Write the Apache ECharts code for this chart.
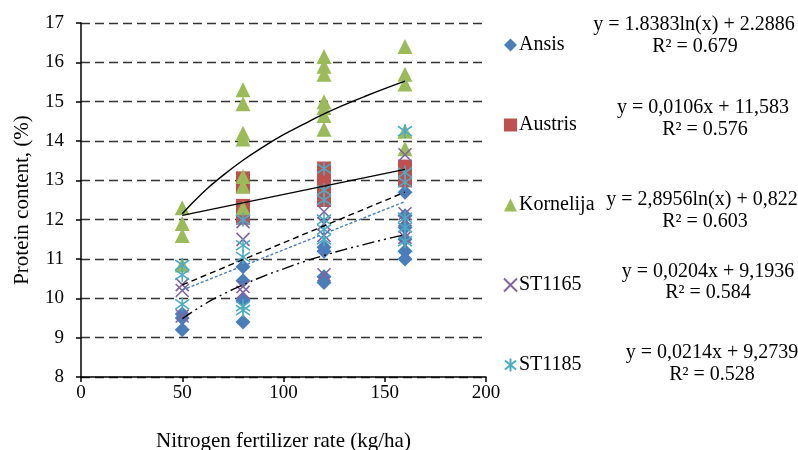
<!DOCTYPE html>
<html>
<head>
<meta charset="utf-8">
<title>Protein content vs nitrogen rate</title>
<script src="https://cdn.jsdelivr.net/npm/echarts@6/dist/echarts.min.js"></script>
<style>
  html, body { margin: 0; padding: 0; background: #fff; }
  #chart { width: 798px; height: 450px; }
</style>
</head>
<body>
<div id="chart"></div>
<script>
// measured points, [nitrogen rate, protein %]
const ansis = [[50, 9.6], [50, 9.2], [50, 9.5], [80, 10.8], [80, 10.45], [80, 9.95], [80, 9.4],
  [120, 11.3], [120, 11.2], [120, 10.55], [120, 10.4],
  [160, 12.7], [160, 12.1], [160, 11.8], [160, 11.5], [160, 11.2], [160, 11.0]];
const austris = [[80, 13.05], [80, 12.85], [80, 12.35], [80, 12.05],
  [120, 13.3], [120, 13.0], [120, 12.7], [120, 12.5],
  [160, 13.35], [160, 13.15], [160, 13.0]];
const kornelija = [[50, 12.3], [50, 11.9], [50, 11.6], [50, 10.85],
  [80, 15.3], [80, 14.95], [80, 14.2], [80, 14.05], [80, 13.1], [80, 12.85], [80, 12.3],
  [120, 16.15], [120, 15.9], [120, 15.7], [120, 15.0], [120, 14.85], [120, 14.65], [120, 14.3],
  [160, 16.4], [160, 15.7], [160, 15.45], [160, 14.25], [160, 13.8]];
const st1165 = [[50, 10.35], [50, 10.2], [50, 9.55], [80, 11.95], [80, 11.5], [80, 10.3], [80, 10.15],
  [120, 12.2], [120, 11.9], [120, 11.6], [120, 10.6],
  [160, 13.65], [160, 12.15], [160, 12.0], [160, 11.55]];
const st1185 = [[50, 10.85], [50, 10.6], [50, 9.85], [80, 12.0], [80, 11.35], [80, 11.05], [80, 9.8], [80, 9.7],
  [120, 13.3], [120, 12.75], [120, 12.5], [120, 12.0], [120, 11.75], [120, 11.5],
  [160, 14.25], [160, 13.2], [160, 12.95], [160, 12.05], [160, 11.8], [160, 11.45]];

// trendlines
const trendX = [50, 60, 70, 80, 90, 100, 110, 120, 130, 140, 150, 160];
const ansisTrend = [9.48, 9.82, 10.10, 10.34, 10.56, 10.75, 10.93, 11.09, 11.24, 11.37, 11.50, 11.62];
const kornelijaTrend = [12.15, 12.68, 13.12, 13.51, 13.85, 14.16, 14.43, 14.69, 14.92, 15.13, 15.33, 15.52];
const linearX = [50, 160];
const austrisTrend = [12.11, 13.28];
const st1165Trend = [10.21, 12.46];
const st1185Trend = [10.34, 12.70];

const varieties = ['Ansis', 'Austris', 'Kornelija', 'ST1165', 'ST1185'];
const equations = ['y = 1.8383ln(x) + 2.2886', 'y = 0,0106x + 11,583', 'y = 2,8956ln(x) + 0,822',
  'y = 0,0204x + 9,1936', 'y = 0,0214x + 9,2739'];
const rSquared = ['R² = 0.679', 'R² = 0.576', 'R² = 0.603', 'R² = 0.584', 'R² = 0.528'];
const xTicks = [0, 50, 100, 150, 200];
const yTicks = [8, 9, 10, 11, 12, 13, 14, 15, 16, 17];

const FONT = '"Liberation Serif", "Times New Roman", serif';
const pairs = (xs, ys) => xs.map((x, i) => [x, ys[i]]);

// equation block centres (eq line, R² line)
const eqPos = [[694, 25, 695, 47], [703, 108, 705, 130], [702, 200, 705, 222],
  [708, 272, 708, 293], [712, 353, 712, 375]];

const graphics = [];
eqPos.forEach((p, i) => {
  graphics.push({ type: 'text', x: p[0], y: p[1], silent: true,
    style: { text: equations[i], font: '20px ' + FONT, fill: '#000', align: 'center', verticalAlign: 'middle' } });
  graphics.push({ type: 'text', x: p[2], y: p[3], silent: true,
    style: { text: rSquared[i], font: '20px ' + FONT, fill: '#000', align: 'center', verticalAlign: 'middle' } });
});

const trend = (data, type, color, smooth) => ({
  type: 'line', data, showSymbol: false, symbol: 'none', smooth, silent: true, z: 5,
  lineStyle: { color, width: 1.4, type },
});

const chart = echarts.init(document.getElementById('chart'));
chart.setOption({
  animation: false,
  textStyle: { fontFamily: FONT },
  grid: { left: 81, right: 312, top: 23, bottom: 73, containLabel: false, outerBoundsMode: 'none' },
  legend: {
    orient: 'vertical', left: 498, top: 30, itemGap: 60,
    itemWidth: 13, itemHeight: 13,
    data: varieties,
    textStyle: { fontFamily: FONT, fontSize: 20, color: '#000', lineHeight: 20, padding: [0, 0, 0, -3] },
  },
  xAxis: {
    type: 'value', min: 0, max: 200, interval: 50,
    name: 'Nitrogen fertilizer rate (kg/ha)', nameLocation: 'middle', nameGap: 54,
    nameTextStyle: { fontFamily: FONT, fontSize: 21, color: '#000' },
    axisLine: { lineStyle: { color: '#000', width: 1.5 } },
    axisTick: { show: true, length: 5, lineStyle: { color: '#000', width: 1.5 } },
    axisLabel: { fontFamily: FONT, fontSize: 19, color: '#000', margin: 7,
      formatter: (v) => (xTicks.includes(v) ? String(v) : '') },
    splitLine: { show: false },
  },
  yAxis: {
    type: 'value', min: 8, max: 17, interval: 1,
    name: 'Protein content, (%)', nameLocation: 'middle', nameGap: 48, nameRotate: 90,
    nameTextStyle: { fontFamily: FONT, fontSize: 21, color: '#000' },
    axisLine: { show: true, lineStyle: { color: '#000', width: 1.5 } },
    axisTick: { show: true, length: 5, lineStyle: { color: '#000', width: 1.5 } },
    axisLabel: { fontFamily: FONT, fontSize: 19, color: '#000', margin: 17,
      formatter: (v) => (yTicks.includes(v) ? String(v) : '') },
    splitLine: { show: true, lineStyle: { color: '#333', width: 1.4, type: [9, 5] } },
  },
  graphic: graphics,
  series: [
    { name: 'Ansis', type: 'scatter', data: ansis, symbol: 'diamond', symbolSize: 15,
      itemStyle: { color: '#4a7ebb', opacity: 1 } },
    { name: 'Austris', type: 'scatter', data: austris, symbol: 'rect', symbolSize: 14,
      itemStyle: { color: '#c0504d', opacity: 1 } },
    { name: 'Kornelija', type: 'scatter', data: kornelija, symbol: 'triangle', symbolSize: 15,
      itemStyle: { color: '#9bbb59', opacity: 1 } },
    { name: 'ST1165', type: 'scatter', data: st1165, symbol: 'path://M0,0L10,10M10,0L0,10', symbolSize: 13,
      itemStyle: { color: 'rgba(0,0,0,0)', borderColor: '#8064a2', borderWidth: 1.6, opacity: 1 } },
    { name: 'ST1185', type: 'scatter', data: st1185,
      symbol: 'path://M5,0L5,10M0.7,1.5L9.3,8.5M9.3,1.5L0.7,8.5', symbolSize: 14,
      itemStyle: { color: 'rgba(0,0,0,0)', borderColor: '#4bacc6', borderWidth: 1.6, opacity: 1 } },
    trend(pairs(trendX, ansisTrend), [12, 4, 2, 4, 2, 4], '#000', true),
    trend(pairs(linearX, austrisTrend), 'solid', '#000', false),
    trend(pairs(trendX, kornelijaTrend), 'solid', '#000', true),
    trend(pairs(linearX, st1165Trend), [3, 2], '#4a7ebb', false),
    trend(pairs(linearX, st1185Trend), [6, 4], '#000', false),
  ],
});
</script>
</body>
</html>
